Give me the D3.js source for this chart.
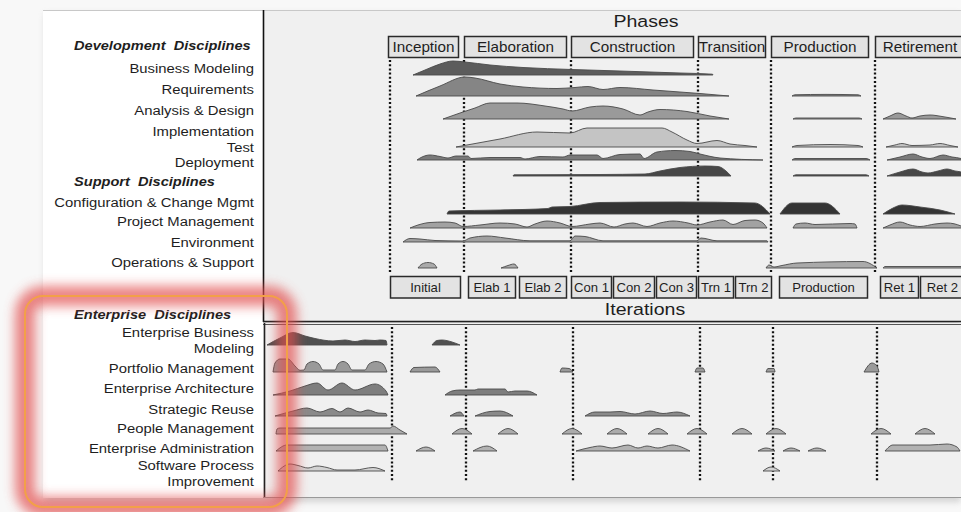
<!DOCTYPE html>
<html><head><meta charset="utf-8">
<script src="https://cdn.jsdelivr.net/npm/d3@7"></script>
<style>
body{margin:0;background:#f8f8f8;overflow:hidden}
text{font-family:"Liberation Sans",Arial,Helvetica,sans-serif;white-space:pre}
</style>
</head><body>
<svg id="chart" width="961" height="512"></svg>
<script>
// ---------------- DATA ----------------
// time axis in "days" (0..700), effort in 0..10 units
const phases = ["Inception","Elaboration","Construction","Transition","Production","Retirement"];
const phaseStart = [125,201,308,435,508,612];
const phaseEnd   = [196,304,431,503,606,702];
const iterations = ["Initial","Elab 1","Elab 2","Con 1","Con 2","Con 3","Trn 1","Trn 2","Production","Ret 1","Ret 2"];
const iterStart  = [127,205,256,308,350,393,435,472,516,617,657];
const iterEnd    = [198,253,304,349,392,434,471,509,605,656,702];
const milestones = [127,201,308,435,508,612];

const upperDisciplines = ["Business Modeling","Requirements","Analysis & Design","Implementation","Test","Deployment",
  "Configuration & Change Mgmt","Project Management","Environment","Operations & Support"];
const lowerDisciplines = ["Enterprise Business\nModeling","Portfolio Management","Enterprise Architecture","Strategic Reuse",
  "People Management","Enterprise Administration","Software Process\nImprovement"];
const groupHeaders = ["Development  Disciplines","Support  Disciplines","Enterprise  Disciplines"];

const businessModeling = [
  [[150,0],[162,2.5],[177,5.5],[190,7],[202,6.5],[227,5],[260,3.75],[309,2.75],[357,2],[417,1],[449.5,0.4],[450,0]]
];
const requirements = [
  [[153,0],[177,5],[202,9.5],[212,9],[237,6],[260,4.5],[294,3.75],[312,4.25],[325,4.75],[340,3.25],[357,4.25],[390,3],[437,1.25],[466,0]],
  [[529,0],[532,0.6],[563,0.8],[595,0.6],[598,0]]
];
const analysisDesign = [
  [[180,0],[197,3],[212,5.5],[227,8],[254,8],[282,6.5],[300,5],[309,4],[327,6],[340,6.5],[360,5],[377,2],[385,3.5],[397,4.75],[424,3.75],[447,1.5],[466,0]],
  [[530,0],[533,0.5],[596,0.5],[599,0]],
  [[620,0],[627,1.5],[635,3],[643,1.5],[649,0.5],[657,1.5],[667,2],[679,1.25],[693,0]]
];
const implementation = [
  [[193,0],[237,4],[274,7.5],[307,7],[324,9.5],[399,9.5],[409,7.5],[424,3.5],[434,1.75],[454,3.25],[467,1.5],[482,0.75],[494,0]],
  [[529,0],[534,0.75],[567,1.25],[595,0.75],[600,0]],
  [[623,0],[632,1],[639,1.75],[649,0.75],[667,1],[677,1.75],[687,0.75],[695,0]]
];
const test = [
  [[154,0],[159,1.5],[167,2.5],[177,1.75],[185,1],[193,2],[205,2],[208,0.75],[227,1.25],[257,1.25],[262,0.5],[277,1.75],[300,1.5],[307,2.5],[334,2.5],[340,0.75],[357,2.75],[377,3],[381,0.75],[394,4],[412,4.75],[427,4.25],[437,3],[457,1],[500,0]],
  [[529,0],[532,0.75],[603,0.75],[607,0]],
  [[624,0],[637,1.5],[650,3],[659,1.5],[667,0.75],[680,2.5],[689,1.5],[698,0.75],[702,0]]
];
const deployment = [
  [[250,0],[251,0.6],[337,0.75],[382,1],[397,2.5],[417,4.25],[442,5],[455,4.75],[463,2.5],[468,0]],
  [[530,0],[533,0.6],[603,0.6],[606,0]],
  [[624,0],[637,2],[650,3.5],[659,2],[665,1.5],[675,2.5],[684,3.5],[692,2.5],[698,2],[702,0]]
];
const configMgmt = [
  [[184,0],[186,1.5],[237,2],[285,2.75],[289,3.5],[307,3.75],[337,5.75],[417,6],[492,5.5],[507,0]],
  [[517,0],[529,5.5],[562,5.5],[577,0]],
  [[620,0],[630,3],[639,4.5],[657,3.5],[677,2],[692,0]]
];
const projectMgmt = [
  [[147,0],[155,1.5],[167,2.75],[182,3],[192,2.5],[200,0.75],[217,1.5],[237,2.5],[252,2],[264,0.5],[272,2],[284,3.5],[297,2.5],[309,0.75],[327,2],[337,2.5],[351,0.5],[362,2],[370,2.5],[384,0.75],[397,2.5],[410,3.5],[425,2.5],[434,1.5],[447,3],[460,4],[470,1.75],[482,3.75],[492,4],[500,2.5],[504,0]],
  [[530,0],[533,2],[542,2.5],[552,1.75],[587,2.25],[592,2],[594,0]],
  [[620,0],[627,1.5],[637,3],[647,1.5],[657,0.75],[672,2],[684,2.5],[698,1],[702,0]]
];
const environment = [
  [[140,0],[147,1.75],[157,1.5],[172,0.75],[200,0.5],[207,2],[224,3],[242,2],[267,0.6],[307,0.6],[312,3],[322,2.75],[340,0.6],[434,0.6],[438,2],[454,0.6],[504,0.6],[505,0]]
];
const opsSupport = [
  [[155,0],[159,2],[165,2.75],[171,2],[174,0]],
  [[238,0],[245,1.25],[251,2],[255,0]],
  [[503,0],[506,1.5],[511,0.5],[519,1.25],[534,2.5],[600,3.25],[614,0]],
  [[620,0],[622,0.75],[698,0.75],[702,0]]
];

const entBusinessModeling = [
  [[4,0],[17,3.5],[30,6.25],[42,4.5],[52,3.25],[70,2],[82,2.5],[92,1.75],[102,2.5],[112,2.25],[117,2.5],[123,2.25],[124,0]],
  [[169,0],[174,2.25],[179,2.5],[189,1.5],[197,0]]
];
const portfolioMgmt = [
  [[10,0],[12,4.5],[17,6.5],[25,6.5],[32,3],[37,0.85],[41,1],[44,4],[50,5.25],[56,4],[60,1],[72,1],[75,4],[80,5.25],[85,4],[89,1],[102,1],[106,4],[113,5.25],[120,4],[124,0]],
  [[147,0],[151,2.25],[172,2.5],[177,0]],
  [[297,0],[299,2],[306,1.75],[310,0]],
  [[432,0],[434,2],[440,2],[442,0]],
  [[503,0],[505,1.75],[511,1.75],[512,0]],
  [[601,0],[609,4.5],[614,3],[616,0]]
];
const entArchitecture = [
  [[10,0],[27,2],[42,4.5],[54,6],[65,2.5],[79,6],[92,2.5],[112,5.5],[123,2],[125,0]],
  [[182,0],[189,2],[197,2.5],[212,2.5],[215,3],[242,3],[245,1.5],[252,2],[264,2],[274,0]]
];
const strategicReuse = [
  [[12,0],[30,2.5],[44,4],[57,2],[69,3.75],[77,2],[85,4],[97,2],[105,3],[115,1.5],[123,1.25],[124,0]],
  [[187,0],[197,2],[201,0]],
  [[212,0],[227,2.25],[237,2.5],[250,0]],
  [[322,0],[332,2],[347,2],[357,2.25],[372,1],[387,2.5],[400,1.25],[414,2],[427,0]]
];
const peopleMgmt = [
  [[13,0],[14,2.5],[17,3],[127,3],[130,4],[137,2],[144,0]],
  [[189,0],[199,2.75],[209,0]],
  [[235,0],[245,2.75],[255,0]],
  [[299,0],[309,2.75],[319,0]],
  [[344,0],[354,2.75],[364,0]],
  [[385,0],[395,2.75],[405,0]],
  [[424,0],[434,2.75],[444,0]],
  [[469,0],[479,2.75],[489,0]],
  [[503,0],[513,2.75],[523,0]],
  [[608,0],[618,2.75],[628,0]],
  [[652,0],[662,2.75],[672,0]]
];
const enterpriseAdmin = [
  [[13,0],[24,3],[122,3],[125,0]],
  [[153,0],[163,2],[172,0]],
  [[210,0],[224,2.5],[234,0]],
  [[313,0],[327,1.75],[337,2.5],[349,1.5],[365,3],[375,1.5],[384,2.5],[395,1.5],[409,3],[427,0]],
  [[495,0],[503,1.5],[512,0]],
  [[520,0],[528,1.5],[537,0]],
  [[545,0],[554,1.5],[563,0]],
  [[622,0],[630,3],[667,3],[684,3.5],[694,2],[697,0]]
];
const processImprovement = [
  [[15,0],[27,3.5],[35,2.75],[45,1.5],[54,2.5],[64,1.75],[74,0.5],[92,0.5],[110,1.75],[122,0]],
  [[500,0],[508,2],[517,0]]
];

const upperSeries = [businessModeling,requirements,analysisDesign,implementation,test,deployment,configMgmt,projectMgmt,environment,opsSupport];
const lowerSeries = [entBusinessModeling,portfolioMgmt,entArchitecture,strategicReuse,peopleMgmt,enterpriseAdmin,processImprovement];

// ---------------- LAYOUT / STYLE ----------------
const upperBase  = [75,96,119,147,160,176,214,228,242,268];
const upperLabY  = [73,94,115,136,152,167,207,226,247,267];
const upperFill  = ["#5c5c5c","#858585","#9a9a9a","#c4c4c4","#7a7a7a","#474747","#343434","#a2a2a2","#a0a0a0","#aaaaaa"];
const lowerBase  = [345,372,395,416,434,451,471];
const lowerLabY  = [337,373,393,414,433,453,470];
const lowerFill  = ["#505050","#9a9a9a","#7e7e7e","#8a8a8a","#ababab","#b2b2b2","#d2d2d2"];
const headerY    = [50,186,319];

const svg = d3.select("#chart");
const defs = svg.append("defs");
defs.append("filter").attr("id","glow").attr("x","-20%").attr("y","-20%").attr("width","140%").attr("height","140%")
  .append("feGaussianBlur").attr("stdDeviation",6);
defs.append("filter").attr("id","shadow").attr("x","-10%").attr("y","-10%").attr("width","120%").attr("height","125%")
  .append("feGaussianBlur").attr("stdDeviation",3);

const x = d3.scaleLinear().domain([0,700]).range([263,963]);
const h = d3.scaleLinear().domain([0,10]).range([0,20]);

// backgrounds
svg.append("rect").attr("width",961).attr("height",512).attr("fill","#f8f8f8");
svg.append("rect").attr("x",45).attr("y",14).attr("width",916).attr("height",488).attr("fill","#bbb").attr("filter","url(#shadow)").attr("opacity",0.6);
svg.append("rect").attr("x",43).attr("y",10).attr("width",220).attr("height",488).attr("fill","#ffffff");
svg.append("rect").attr("x",263).attr("y",10).attr("width",698).attr("height",312).attr("fill","#f0f0f0");
svg.append("rect").attr("x",263).attr("y",323).attr("width",698).attr("height",175).attr("fill","#f0f0f0");
svg.append("line").attr("x1",43).attr("x2",961).attr("y1",10.5).attr("y2",10.5).attr("stroke","#c8c8c8");

// frame lines
svg.append("line").attr("x1",263.5).attr("x2",263.5).attr("y1",10).attr("y2",322).attr("stroke","#111").attr("stroke-width",1.6);
svg.append("line").attr("x1",263).attr("x2",961).attr("y1",321.5).attr("y2",321.5).attr("stroke","#222").attr("stroke-width",1.6);
svg.append("line").attr("x1",263).attr("x2",961).attr("y1",324.5).attr("y2",324.5).attr("stroke","#555").attr("stroke-width",1);
svg.append("line").attr("x1",264.5).attr("x2",264.5).attr("y1",323).attr("y2",498).attr("stroke","#222").attr("stroke-width",1.6);
svg.append("line").attr("x1",263).attr("x2",961).attr("y1",497.5).attr("y2",497.5).attr("stroke","#999").attr("stroke-width",1);

function label(g, str, px, py, opts){
  const o = Object.assign({size:13.5, anchor:"end", sx:1.1, weight:"normal", style:"normal", fill:"#1e1e1e"}, opts||{});
  g.append("text").attr("transform",`translate(${px},${py}) scale(${o.sx},1)`)
    .attr("text-anchor",o.anchor).attr("font-size",o.size).attr("font-weight",o.weight)
    .attr("font-style",o.style).attr("fill",o.fill).text(str);
}

// titles
const tg = svg.append("g");
label(tg,"Phases",646,27,{size:17,anchor:"middle",sx:1.15});
label(tg,"Iterations",645,315,{size:17,anchor:"middle",sx:1.15});

// phase boxes
const pg = svg.append("g");
phases.forEach((p,i)=>{
  const x0 = x(phaseStart[i]), x1 = x(phaseEnd[i]);
  pg.append("rect").attr("x",x0+0.5).attr("y",36.5).attr("width",x1-x0-1).attr("height",21)
    .attr("fill","#e3e3e3").attr("stroke","#2a2a2a").attr("stroke-width",1.5);
  label(pg,p,(x0+x1)/2,51.5,{size:14,anchor:"middle",sx:1.09});
});
iterations.forEach((p,i)=>{
  const x0 = x(iterStart[i]), x1 = x(iterEnd[i]);
  pg.append("rect").attr("x",x0+0.5).attr("y",276.5).attr("width",x1-x0-1).attr("height",21.5)
    .attr("fill","#e3e3e3").attr("stroke","#2a2a2a").attr("stroke-width",1.5);
  label(pg,p,(x0+x1)/2,292,{size:12.5,anchor:"middle",sx:1.05});
});

// milestone dotted lines
const mg = svg.append("g");
milestones.forEach(m=>{
  mg.append("line").attr("x1",x(m)).attr("x2",x(m)).attr("y1",60).attr("y2",274)
    .attr("stroke","#111").attr("stroke-width",2.3).attr("stroke-dasharray","2,2.2");
  mg.append("line").attr("x1",x(m)+2).attr("x2",x(m)+2).attr("y1",327).attr("y2",481)
    .attr("stroke","#111").attr("stroke-width",2.3).attr("stroke-dasharray","2,2.2");
});

// humps
function drawRows(series, bases, fills){
  const g = svg.append("g");
  series.forEach((segs,i)=>{
    const base = bases[i];
    const area = d3.area().curve(d3.curveMonotoneX)
      .x(d=>x(d[0])).y0(base).y1(d=>base - h(d[1]));
    segs.forEach(seg=>{
      g.append("path").attr("d",area(seg)).attr("fill",fills[i])
        .attr("stroke","#4a4a4a").attr("stroke-width",0.9).attr("stroke-linejoin","round");
    });
  });
}
drawRows(upperSeries, upperBase, upperFill);
drawRows(lowerSeries, lowerBase, lowerFill);

// labels
const lg = svg.append("g");
upperDisciplines.forEach((d,i)=>label(lg,d,254,upperLabY[i]));
lowerDisciplines.forEach((d,i)=>{
  const parts = d.split("\n");
  parts.forEach((p,j)=>label(lg,p,254,lowerLabY[i]+j*16));
});
groupHeaders.forEach((d,i)=>label(lg,d,74,headerY[i],{anchor:"start",weight:"bold",style:"italic",sx:1.08}));

// highlight
const hg = svg.append("g");
hg.append("rect").attr("x",25).attr("y",296).attr("width",262).attr("height",211).attr("rx",18)
  .attr("fill","none").attr("stroke","#e24e4e").attr("stroke-width",20).attr("opacity",0.7).attr("filter","url(#glow)");
hg.append("rect").attr("x",25).attr("y",296).attr("width",262).attr("height",211).attr("rx",18)
  .attr("fill","none").attr("stroke","#f2a048").attr("stroke-width",2);
</script>
</body></html>
